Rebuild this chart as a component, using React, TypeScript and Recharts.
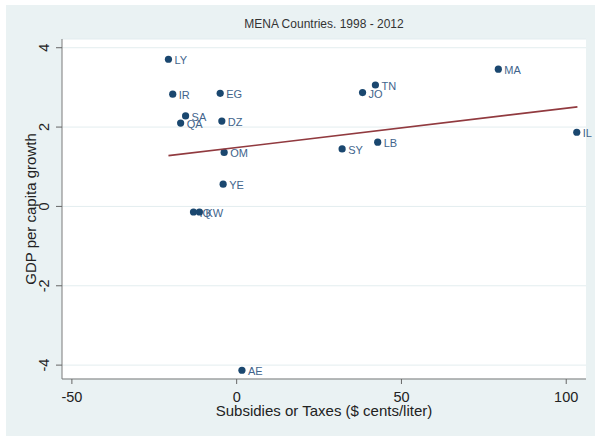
import React from "react";
import { ScatterChart, Scatter, XAxis, YAxis, CartesianGrid, Label } from "recharts";

const countries = ["LY", "IR", "EG", "SA", "QA", "DZ", "OM", "YE", "IQ", "KW", "AE", "MA", "TN", "JO", "SY", "LB", "IL"];
const subsidies = [-20.7, -19.4, -5.0, -15.5, -17.0, -4.5, -3.8, -4.1, -13.1, -11.3, 1.6, 79.4, 42.1, 38.2, 32.0, 42.8, 103.2];
const growth = [3.71, 2.83, 2.85, 2.28, 2.1, 2.15, 1.36, 0.56, -0.14, -0.14, -4.13, 3.46, 3.06, 2.87, 1.45, 1.62, 1.87];
const fitX = [-20.7, 103.4];
const fitY = [1.28, 2.51];
const xTicks = [-50, 0, 50, 100];
const yTicks = [-4, -2, 0, 2, 4];

const points = countries.map((c, i) => ({ code: c, x: subsidies[i], y: growth[i] }));
const fitLine = fitX.map((x, i) => ({ x, y: fitY[i] }));

const FONT = "'Liberation Sans', Arial, Helvetica, sans-serif";
const MARKER = "#1a476f";

const Dot = (props: any) => {
  const { cx, cy, payload } = props;
  return (
    <g>
      <circle cx={cx} cy={cy} r={3.6} fill={MARKER} />
      <text x={cx + 6} y={cy + 1} dominantBaseline="central" fontSize={11} fill="#42648c" fontFamily={FONT}>
        {payload.code}
      </text>
    </g>
  );
};

const YTick = (props: any) => {
  const { x, y, payload } = props;
  return (
    <text transform={`translate(${x - 5}, ${y}) rotate(-90)`} textAnchor="middle" fontSize={14.5} fill="#222" fontFamily={FONT}>
      {payload.value}
    </text>
  );
};

const XTick = (props: any) => {
  const { x, y, payload } = props;
  return (
    <text x={x} y={y + 16} textAnchor="middle" fontSize={14.5} fill="#222" fontFamily={FONT}>
      {payload.value}
    </text>
  );
};

export default function App() {
  return (
    <div style={{ position: "absolute", left: 0, top: 0, width: 595, height: 436, background: "#ffffff" }}>
      <div style={{ position: "absolute", left: 6, top: 5, width: 589, height: 431, background: "#eaf2f3" }} />
      <div style={{ position: "absolute", left: 0, top: 0 }}>
        <ScatterChart width={595} height={436} margin={{ top: 39, right: 9, bottom: 0, left: 0 }}>
          <CartesianGrid fill="#ffffff" stroke="#e3edef" strokeWidth={1} vertical={false} />
          <XAxis
            type="number"
            dataKey="x"
            domain={[-53, 106]}
            ticks={xTicks}
            height={57}
            tickSize={5}
            tickLine={{ stroke: "#666" }}
            axisLine={{ stroke: "#7a7a7a" }}
            tick={<XTick />}
          >
            <Label
              content={() => (
                <text x={324} y={416} textAnchor="middle" fontSize={15} fill="#222" fontFamily={FONT}>
                  Subsidies or Taxes ($ cents/liter)
                </text>
              )}
            />
            <Label
              content={() => (
                <text x={324} y={28} textAnchor="middle" fontSize={12} fill="#333" fontFamily={FONT}>
                  MENA Countries. 1998 - 2012
                </text>
              )}
            />
          </XAxis>
          <YAxis
            type="number"
            dataKey="y"
            domain={[-4.35, 4.22]}
            ticks={yTicks}
            width={62}
            tickSize={6}
            tickMargin={2}
            tickLine={{ stroke: "#666" }}
            axisLine={{ stroke: "#7a7a7a" }}
            tick={<YTick />}
          >
            <Label
              content={() => (
                <text transform="translate(36, 209) rotate(-90)" textAnchor="middle" fontSize={15} fill="#222" fontFamily={FONT}>
                  GDP per capita growth
                </text>
              )}
            />
          </YAxis>
          <Scatter data={points} shape={<Dot />} isAnimationActive={false} />
          <Scatter
            data={fitLine}
            line={{ stroke: "#913a3f", strokeWidth: 1.6 }}
            shape={() => null}
            isAnimationActive={false}
          />
        </ScatterChart>
      </div>
    </div>
  );
}
